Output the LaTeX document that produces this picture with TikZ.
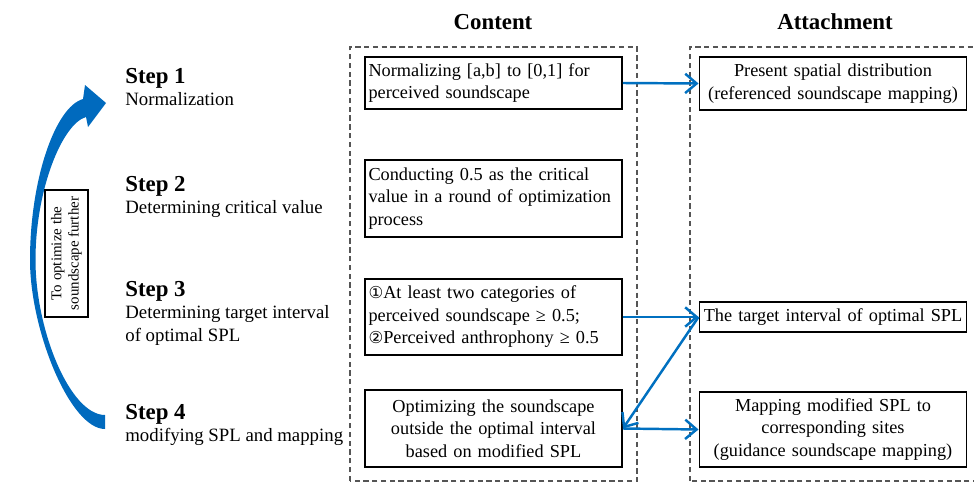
\documentclass[tikz,border=0pt]{standalone}
\usepackage{fontspec}
\setmainfont{Liberation Serif}
\newfontfamily\circfont[Scale=0.9]{DejaVu Sans}
\usepackage{xcolor}
\usetikzlibrary{arrows.meta}

\definecolor{flowblue}{RGB}{0,112,192}
\definecolor{loopblue}{RGB}{0,106,190}
\definecolor{dashgray}{RGB}{85,85,85}

\tikzset{
  textfont/.style={font=\fontsize{10.4}{12.8}\selectfont},
  headfont/.style={font=\fontsize{13}{15}\selectfont\bfseries},
  stepnode/.style={font=\fontsize{10.7}{12.8}\selectfont, anchor=north west,
    align=left, inner sep=0pt},
  contentbox/.style={textfont, draw, line width=1.1pt, text width=5.0cm,
    inner xsep=2pt, inner ysep=2pt},
  attachbox/.style={textfont, draw, line width=1.1pt, text width=5.2cm,
    inner xsep=2pt, inner ysep=2pt, align=center},
  groupbox/.style={draw=dashgray, line width=0.8pt, dash pattern=on 3pt off 2pt},
  flowarrow/.style={draw=flowblue, line width=1.4pt,
    -{Straight Barb[length=6.5pt, width=11pt, line width=1.4pt]}}
}

\begin{document}
\hyphenpenalty=10000
\begin{tikzpicture}
  \useasboundingbox (0, 0) rectangle (19.48, 9.66);
  \clip (0, 0) rectangle (19.48, 9.66);

  % Column titles
  \node[headfont] (conthead) at (9.86, 9.22) {Content};
  \node[headfont] (atthead) at (16.7, 9.22) {Attachment};

  % Dashed columns
  \draw[groupbox] (7.0, 0.04) rectangle (12.74, 8.72);
  \draw[groupbox] (13.8, 0.04) rectangle (19.6, 8.72);

  % Steps
  \node[stepnode] (step1) at (2.5, 8.3)
    {{\fontsize{13}{13}\bfseries Step 1}\\Normalization};
  \node[stepnode] (step2) at (2.5, 6.14)
    {{\fontsize{13}{13}\bfseries Step 2}\\Determining critical value};
  \node[stepnode] (step3) at (2.5, 4.04)
    {{\fontsize{13}{13}\bfseries Step 3}\\Determining target interval\\of optimal SPL};
  \node[stepnode] (step4) at (2.5, 1.58)
    {{\fontsize{13}{13}\bfseries Step 4}\\modifying SPL and mapping};

  % Loop arrow
  \fill[loopblue] (2.1, 1.08) .. controls (1.4, 1.08) and (0.6, 3.06) .. (0.6, 4.46)
    .. controls (0.6, 6.06) and (1.1, 7.52) .. (1.66, 7.68)
    -- (1.7, 7.96) -- (2.12, 7.6) -- (1.76, 7.12) -- (1.72, 7.32)
    .. controls (1.24, 7.18) and (0.71, 5.86) .. (0.71, 4.46)
    .. controls (0.71, 3.06) and (1.4, 1.36) .. (2.1, 1.36) -- cycle;
  \node[draw, thick, rotate=90, align=center, inner sep=2pt,
        minimum width=2.54cm, minimum height=0.86cm,
        font=\fontsize{8.5}{9.8}\selectfont] (further) at (1.33, 4.59)
    {To optimize the\\soundscape further};

  % Content
  \node[contentbox, align=left, minimum height=1.04cm] (norm) at (9.87, 8.0)
    {Normalizing [a,b] to [0,1] for\\perceived soundscape};
  \node[contentbox, align=left, minimum height=1.54cm] (crit) at (9.87, 5.69)
    {Conducting 0.5 as the critical\\value in a round of optimization\\process};
  \node[contentbox, align=left, minimum height=1.52cm] (cond) at (9.87, 3.32)
    {{\circfont ①}At least two categories of\\perceived soundscape ≥ 0.5;\\{\circfont ②}Perceived anthrophony ≥ 0.5};
  \node[contentbox, align=center, minimum height=1.54cm] (optim) at (9.87, 1.09)
    {Optimizing the soundscape\\outside the optimal interval\\based on modified SPL};

  % Attachment
  \node[attachbox, minimum height=1.06cm] (refmap) at (16.66, 7.99)
    {Present spatial distribution\\(referenced soundscape mapping)};
  \node[attachbox, minimum height=0.6cm] (interval) at (16.66, 3.32)
    {The target interval of optimal SPL};
  \node[attachbox, minimum height=1.5cm] (guidmap) at (16.66, 1.07)
    {Mapping modified SPL to\\corresponding sites\\(guidance soundscape mapping)};

  % Arrows
  \draw[flowarrow] (norm.east) -- (refmap.west);
  \draw[flowarrow] (cond.east) -- (interval.west);
  \draw[flowarrow] (interval.west) -- (optim.east);
  \draw[flowarrow] (optim.east) -- (guidmap.west);
\end{tikzpicture}
\end{document}
